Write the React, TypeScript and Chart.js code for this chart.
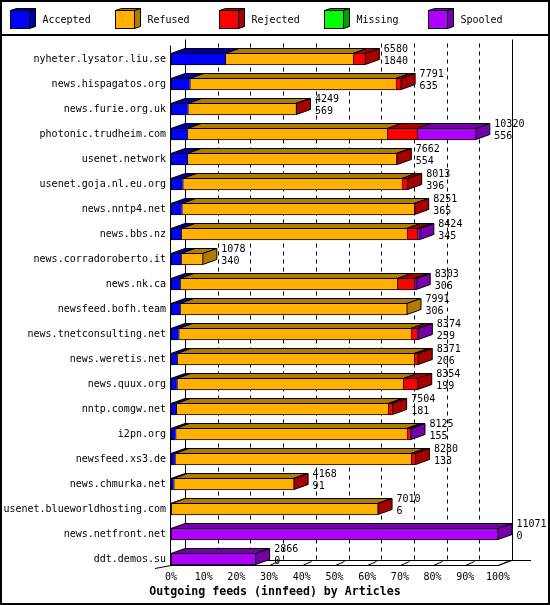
import React, { useEffect, useRef } from 'react';
import { Chart, registerables } from 'chart.js';
Chart.register(...registerables);

const hosts = [
  'nyheter.lysator.liu.se', 'news.hispagatos.org', 'news.furie.org.uk', 'photonic.trudheim.com',
  'usenet.network', 'usenet.goja.nl.eu.org', 'news.nntp4.net', 'news.bbs.nz', 'news.corradoroberto.it',
  'news.nk.ca', 'newsfeed.bofh.team', 'news.tnetconsulting.net', 'news.weretis.net', 'news.quux.org',
  'nntp.comgw.net', 'i2pn.org', 'newsfeed.xs3.de', 'news.chmurka.net', 'usenet.blueworldhosting.com',
  'news.netfront.net', 'ddt.demos.su',
];
const totals = [6580, 7791, 4249, 10320, 7662, 8013, 8251, 8424, 1078, 8303, 7991, 8374, 8371, 8354, 7504, 8125, 8280, 4168, 7010, 11071, 2866];
const accepted = [1840, 635, 569, 556, 554, 396, 365, 345, 340, 306, 306, 259, 206, 199, 181, 155, 133, 91, 6, 0, 0];
const refused = [4321, 6971, 3650, 6766, 7068, 7413, 7866, 7633, 738, 7355, 7685, 7855, 8030, 7665, 7175, 7823, 7991, 4057, 6989, 0, 0];
const rejected = [419, 185, 30, 1016, 40, 204, 20, 359, 0, 575, 0, 223, 135, 490, 148, 110, 156, 20, 15, 0, 0];
const missing = [0, 0, 0, 0, 0, 0, 0, 0, 0, 0, 0, 0, 0, 0, 0, 0, 0, 0, 0, 0, 0];
const spooled = [0, 0, 0, 1982, 0, 0, 0, 87, 0, 67, 0, 37, 0, 0, 0, 37, 0, 0, 0, 11071, 2866];
const seriesNames = ['Accepted', 'Refused', 'Rejected', 'Missing', 'Spooled'];
const tickPercents = [0, 10, 20, 30, 40, 50, 60, 70, 80, 90, 100];
const axisTitle = 'Outgoing feeds (innfeed) by Articles';

const FRONT = ['#0000ff', '#ffb000', '#ff0000', '#00ff00', '#b000ff'];
const SHADE = ['#0000a0', '#b07c00', '#a80000', '#00a000', '#7400a8'];
const FONT = "'DejaVu Sans Mono', monospace";
const DX = 14;
const DY = 5;

const deco = {
  id: 'deco3d',
  beforeDatasetsDraw(chart: any) {
    const { ctx, chartArea } = chart;
    const xs = chart.scales.x;
    const ys = chart.scales.y;
    const n = chart.data.labels.length;
    const x0 = Math.round(xs.getPixelForValue(0));
    const x100 = Math.round(xs.getPixelForValue(xs.max));
    const lastEl = ys.getPixelForValue(n - 1);
    const yF = Math.floor(lastEl + 6) + 0.5;
    const yB = yF - DY;
    const backTop = Math.round(chartArea.top - 8) + 0.5;
    ctx.save();
    ctx.strokeStyle = '#000';
    ctx.lineWidth = 1;
    // dashed grid on back plane
    ctx.setLineDash([4, 4]);
    xs.ticks.forEach((t: any, i: number) => {
      if (i === 0 || i === xs.ticks.length - 1) return;
      const x = Math.round(xs.getPixelForValue(t.value) + DX) + 0.5;
      ctx.beginPath();
      ctx.moveTo(x, backTop + 4);
      ctx.lineTo(x, yB);
      ctx.stroke();
    });
    ctx.setLineDash([]);
    // back walls
    ctx.beginPath();
    ctx.moveTo(x0 + DX + 0.5, backTop);
    ctx.lineTo(x0 + DX + 0.5, yB);
    ctx.moveTo(x100 + DX + 0.5, backTop);
    ctx.lineTo(x100 + DX + 0.5, yB);
    // front left axis
    ctx.moveTo(x0 - 0.5, chartArea.top - 1);
    ctx.lineTo(x0 - 0.5, yF);
    // floor
    ctx.moveTo(x0, yF);
    ctx.lineTo(x100, yF);
    ctx.moveTo(x0 + DX, yB);
    ctx.lineTo(x100 + DX + 19, yB);
    ctx.moveTo(x0 - 16, yF + 3);
    ctx.lineTo(x0, yF);
    ctx.moveTo(x100, yF);
    ctx.lineTo(x100 + DX, yB);
    ctx.stroke();
    // slanted tick marks
    ctx.beginPath();
    xs.ticks.forEach((t: any) => {
      const x = Math.round(xs.getPixelForValue(t.value)) + 0.5;
      ctx.moveTo(x, yF);
      ctx.lineTo(x + 9, yF - 4);
    });
    ctx.stroke();
    ctx.restore();
  },
  afterDatasetsDraw(chart: any) {
    const { ctx } = chart;
    const n = chart.data.labels.length;
    ctx.save();
    ctx.strokeStyle = '#000';
    ctx.lineWidth = 1;
    for (let i = 0; i < n; i++) {
      let last: any = null;
      let lastK = -1;
      chart.data.datasets.forEach((ds: any, k: number) => {
        const v = ds.data[i];
        if (v == null || v <= 0) return;
        const el = chart.getDatasetMeta(k).data[i];
        const p = el.getProps(['x', 'base', 'y', 'height'], true);
        const top = p.y - p.height / 2 + 0.5;
        const bottom = p.y + p.height / 2 - 0.5;
        const a = Math.min(p.x, p.base);
        const b = Math.max(p.x, p.base);
        ctx.beginPath();
        ctx.moveTo(a, top);
        ctx.lineTo(b, top);
        ctx.lineTo(b + DX, top - DY);
        ctx.lineTo(a + DX, top - DY);
        ctx.closePath();
        ctx.fillStyle = SHADE[k];
        ctx.fill();
        ctx.stroke();
        last = { b, top, bottom };
        lastK = k;
      });
      if (last) {
        const { b, top, bottom } = last;
        ctx.beginPath();
        ctx.moveTo(b, top);
        ctx.lineTo(b + DX, top - DY);
        ctx.lineTo(b + DX, bottom - DY);
        ctx.lineTo(b, bottom);
        ctx.closePath();
        ctx.fillStyle = SHADE[lastK];
        ctx.fill();
        ctx.stroke();
      }
      const endX = chart.scales.x.getPixelForValue(totals[i]);
      const cy = chart.scales.y.getPixelForValue(i);
      const top = cy - 6;
      ctx.fillStyle = '#000';
      ctx.font = `10px ${FONT}`;
      ctx.textAlign = 'left';
      ctx.textBaseline = 'middle';
      ctx.fillText(String(totals[i]), endX + DX + 4.5, top - 3.5);
      ctx.fillText(String(accepted[i]), endX + DX + 4.5, top + 8);
    }
    ctx.restore();
  },
  afterDraw(chart: any) {
    const { ctx, width, height } = chart;
    ctx.save();
    ctx.strokeStyle = '#000';
    ctx.lineWidth = 2;
    ctx.strokeRect(1, 1, width - 2, height - 2);
    ctx.beginPath();
    ctx.moveTo(0, 35);
    ctx.lineTo(width, 35);
    ctx.stroke();
    // legend
    ctx.lineWidth = 1;
    chart.data.datasets.forEach((ds: any, k: number) => {
      const bx = 10 + Math.round(k * 104.5) + 0.5;
      const by = 10.5;
      const w = 19;
      const h = 18;
      ctx.fillStyle = FRONT[k];
      ctx.fillRect(bx, by, w, h);
      ctx.strokeRect(bx, by, w, h);
      ctx.beginPath();
      ctx.moveTo(bx, by);
      ctx.lineTo(bx + w, by);
      ctx.lineTo(bx + w + 6, by - 2);
      ctx.lineTo(bx + 6, by - 2);
      ctx.closePath();
      ctx.fillStyle = SHADE[k];
      ctx.fill();
      ctx.stroke();
      ctx.beginPath();
      ctx.moveTo(bx + w, by);
      ctx.lineTo(bx + w + 6, by - 2);
      ctx.lineTo(bx + w + 6, by + h - 2);
      ctx.lineTo(bx + w, by + h);
      ctx.closePath();
      ctx.fill();
      ctx.stroke();
      ctx.fillStyle = '#000';
      ctx.font = `10px ${FONT}`;
      ctx.textAlign = 'left';
      ctx.textBaseline = 'middle';
      ctx.fillText(ds.label, bx + 32, 20);
    });
    ctx.restore();
  },
};

export default function App() {
  const ref = useRef<HTMLCanvasElement>(null);
  useEffect(() => {
    if (!ref.current) return;
    const series = [accepted, refused, rejected, missing, spooled];
    const maxTotal = Math.max(...totals);
    const chart = new Chart(ref.current, {
      type: 'bar',
      data: {
        labels: hosts,
        datasets: series.map((arr, k) => ({
          label: seriesNames[k],
          data: arr.map((v) => (v > 0 ? v : null)),
          backgroundColor: FRONT[k],
          borderColor: '#000',
          borderWidth: { left: 1, top: 1, bottom: 1, right: 0 },
          borderSkipped: false,
          barThickness: 12,
          xAxisID: 'x',
          yAxisID: 'y',
        })),
      },
      options: {
        indexAxis: 'y',
        responsive: false,
        animation: false,
        devicePixelRatio: 1,
        layout: { padding: { top: 46.5, left: 0, right: 0, bottom: 0 } },
        plugins: {
          legend: { display: false },
          tooltip: { enabled: false },
          title: {
            display: true,
            position: 'bottom',
            text: axisTitle,
            color: '#000',
            font: { family: FONT, size: 11.6, weight: 'bold' },
            padding: { top: 0, bottom: 6 },
          },
        },
        scales: {
          x: {
            type: 'linear',
            stacked: true,
            min: 0,
            max: maxTotal,
            grid: { display: false, drawTicks: false },
            border: { display: false },
            afterBuildTicks: (s: any) => {
              s.ticks = tickPercents.map((p) => ({ value: (maxTotal * p) / 100 }));
            },
            ticks: {
              color: '#000',
              padding: 0,
              autoSkip: false,
              maxRotation: 0,
              font: { family: FONT, size: 10 },
              callback: (v: any) => `${Math.round((Number(v) / maxTotal) * 100)}%`,
            },
            afterFit: (s: any) => {
              s.height = 13.58;
            },
          },
          y: {
            type: 'category',
            stacked: true,
            grid: { display: false, drawTicks: false },
            border: { display: false },
            ticks: { color: '#000', padding: 5, autoSkip: false, font: { family: FONT, size: 10 } },
            afterFit: (s: any) => {
              s.width = 171;
            },
          },
          yR: {
            type: 'category',
            position: 'right',
            labels: hosts,
            grid: { display: false, drawTicks: false },
            border: { display: false },
            ticks: { display: false },
            afterFit: (s: any) => {
              s.width = 52;
            },
          },
        },
      } as any,
      plugins: [deco],
    });
    return () => chart.destroy();
  }, []);
  return (
    <div style={{ position: 'fixed', left: 0, top: 0, width: 550, height: 605, background: '#fff' }}>
      <canvas ref={ref} width={550} height={605} style={{ display: 'block' }} />
    </div>
  );
}
